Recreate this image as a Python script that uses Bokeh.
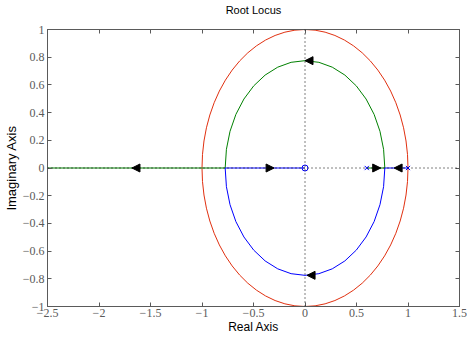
from bokeh.plotting import figure
from bokeh.models import (LinearAxis, Range1d, FixedTicker, Span, Arrow,
                          NormalHead, ColumnDataSource)
from bokeh.embed import file_html
from bokeh.resources import INLINE

# ---- data ----
x_ticks = [-2.5, -2.0, -1.5, -1.0, -0.5, 0.0, 0.5, 1.0, 1.5]
x_tick_labels = ["\u22122.5", "\u22122", "\u22121.5", "\u22121", "\u22120.5", "0", "0.5", "1", "1.5"]
y_ticks = [-1.0, -0.8, -0.6, -0.4, -0.2, 0.0, 0.2, 0.4, 0.6, 0.8, 1.0]
y_tick_labels = ["\u22121", "\u22120.8", "\u22120.6", "\u22120.4", "\u22120.2", "0", "0.2", "0.4", "0.6", "0.8", "1"]

# branch 1 (green): pole 0.6 -> breakaway -> upper arc -> break-in -> -inf
green_x = [0.6, 0.775, 0.763, 0.728, 0.671, 0.593, 0.498, 0.387, 0.265, 0.135, 0.0,
           -0.135, -0.265, -0.387, -0.498, -0.593, -0.671, -0.728, -0.763, -0.775, -2.5]
green_y = [0.0, 0.0, 0.135, 0.265, 0.387, 0.498, 0.593, 0.671, 0.728, 0.763, 0.775,
           0.763, 0.728, 0.671, 0.593, 0.498, 0.387, 0.265, 0.135, 0.0, 0.0]
# branch 2 (blue): pole 1.0 -> breakaway -> lower arc -> break-in -> zero at 0
blue_x = [1.0, 0.775, 0.763, 0.728, 0.671, 0.593, 0.498, 0.387, 0.265, 0.135, 0.0,
          -0.135, -0.265, -0.387, -0.498, -0.593, -0.671, -0.728, -0.763, -0.775, 0.0]
blue_y = [0.0, 0.0, -0.135, -0.265, -0.387, -0.498, -0.593, -0.671, -0.728, -0.763, -0.775,
          -0.763, -0.728, -0.671, -0.593, -0.498, -0.387, -0.265, -0.135, 0.0, 0.0]

pole_x = [0.6, 1.0]
pole_y = [0.0, 0.0]
zero_x = [0.0]
zero_y = [0.0]

unit_cx = [0.0]
unit_cy = [0.0]
unit_d = [2.0]

arrow_x = [0.735, 0.865, -0.30, -1.68, 0.0, 0.02]
arrow_y = [0.0, 0.0, 0.0, 0.0, 0.775, -0.775]
arrow_dir = [1, -1, 1, -1, -1, -1]

title_text = "Root Locus"

AX = "#5a5a5a"

p = figure(width=467, height=337, output_backend="svg", toolbar_location=None,
           x_range=Range1d(-2.5, 1.5), y_range=Range1d(-1, 1),
           min_border_left=46, min_border_right=8, min_border_top=29, min_border_bottom=31)
p.background_fill_color = "white"
p.border_fill_color = "white"
p.grid.visible = False
p.outline_line_color = AX

# reference lines
p.add_layout(Span(location=0, dimension="width", line_color="black", line_dash="1 3", line_width=1))
p.add_layout(Span(location=0, dimension="height", line_color="black", line_dash="1 3", line_width=1))

# unit circle
p.ellipse(x=unit_cx, y=unit_cy, width=unit_d, height=unit_d, fill_color=None,
          line_color="#e03010", line_width=1)

p.line(green_x, green_y, line_color="#008000", line_width=1)
p.line(blue_x, blue_y, line_color="#0000ff", line_width=1)

p.scatter(pole_x, pole_y, marker="x", size=6, line_color="#0000ff", line_width=1)
p.scatter(zero_x, zero_y, marker="circle", size=6, fill_color=None, line_color="#0000ff", line_width=1)

src = ColumnDataSource(dict(
    xs=[x - d * 0.01 for x, d in zip(arrow_x, arrow_dir)],
    xe=arrow_x, ys=arrow_y, ye=arrow_y))
p.add_layout(Arrow(source=src, x_start="xs", y_start="ys", x_end="xe", y_end="ye",
                   line_alpha=0,
                   end=NormalHead(size=8, fill_color="black", line_color="black", line_width=1)))

def style_axis(ax, ticks, labels, show):
    ax.ticker = FixedTicker(ticks=ticks)
    ax.major_label_overrides = {t: (l if show else "") for t, l in zip(ticks, labels)}
    ax.axis_line_color = AX
    ax.major_tick_line_color = AX
    ax.major_tick_in = 4
    ax.major_tick_out = 0
    ax.minor_tick_line_color = None
    ax.major_label_text_font = "Liberation Serif"
    ax.major_label_text_font_size = "12px"
    ax.major_label_text_color = AX
    ax.axis_label_text_font = "Liberation Sans"
    ax.axis_label_text_font_size = "12px"
    ax.axis_label_text_font_style = "normal"
    ax.axis_label_text_color = "black"
    if not show:
        ax.major_label_standoff = 0

style_axis(p.xaxis[0], x_ticks, x_tick_labels, True)
style_axis(p.yaxis[0], y_ticks, y_tick_labels, True)
p.xaxis[0].axis_label = "Real Axis"
p.yaxis[0].axis_label = "Imaginary Axis"
p.yaxis[0].axis_label_text_font_size = "13px"
p.xaxis[0].major_label_standoff = 2
p.xaxis[0].axis_label_standoff = 0
p.yaxis[0].major_label_standoff = 3
p.yaxis[0].axis_label_standoff = 1

top = LinearAxis()
right = LinearAxis()
style_axis(top, x_ticks, x_tick_labels, False)
style_axis(right, y_ticks, y_tick_labels, False)
top.axis_label = title_text
top.axis_label_text_font_size = "11px"
top.axis_label_standoff = 14
p.add_layout(top, "above")
p.add_layout(right, "right")

open("out.html", "w").write(file_html(p, INLINE))
